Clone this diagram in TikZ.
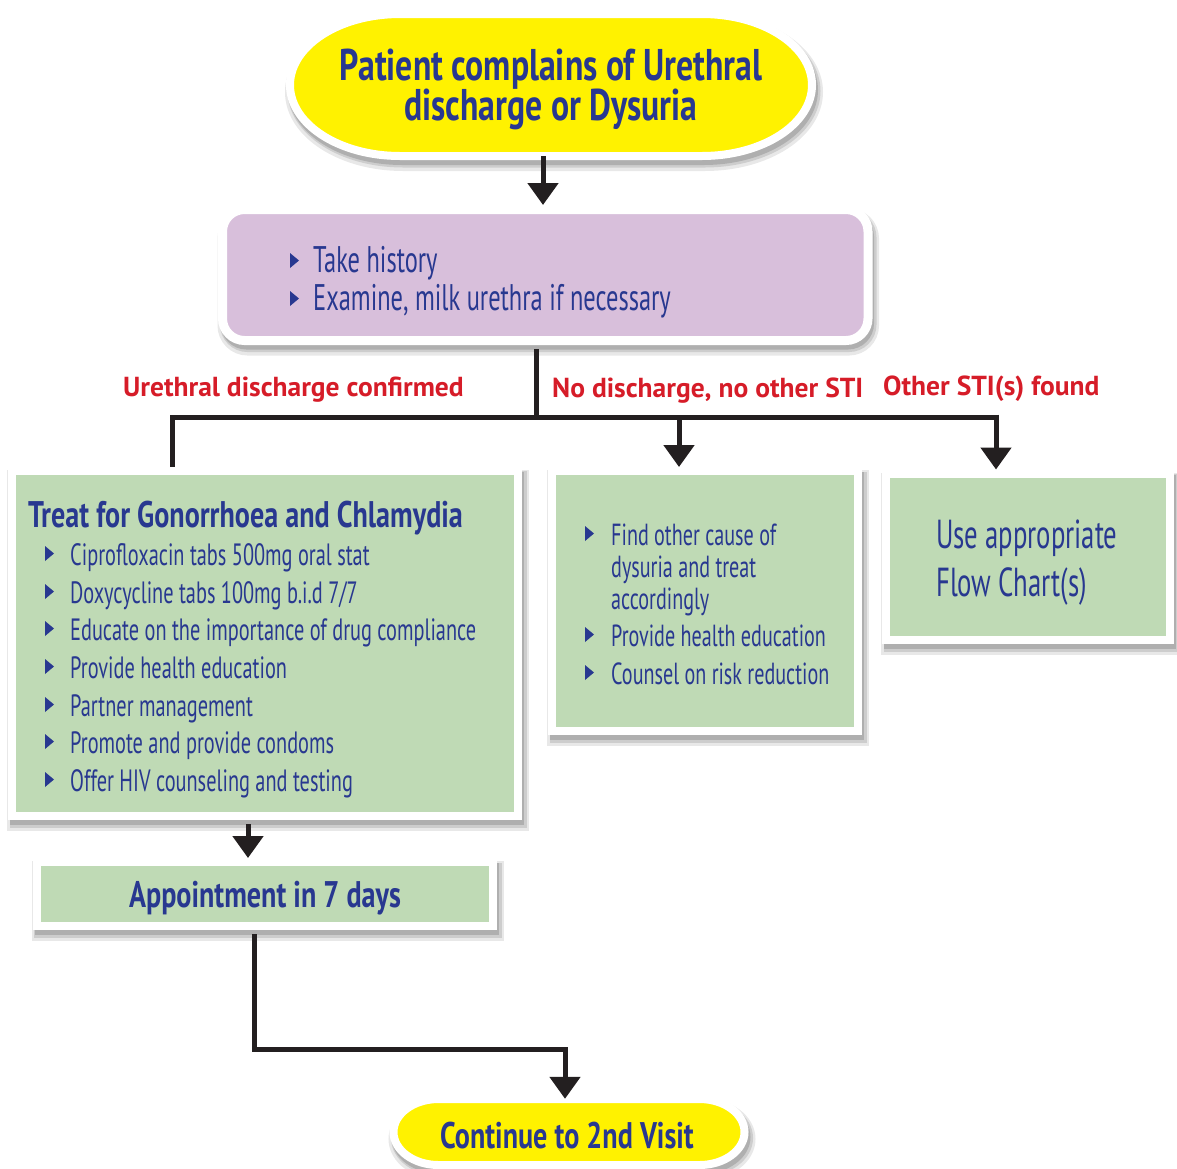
\documentclass[tikz,border=0pt]{standalone}
\usepackage{fontspec}
\setmainfont{PT Sans}[FakeStretch=0.66]
\newfontfamily\hdfont{PT Sans}[FakeStretch=0.76]
\newfontfamily\lblfont{PT Sans}
\usetikzlibrary{arrows.meta}
\definecolor{tc}{RGB}{40,56,144}
\definecolor{yel}{RGB}{255,242,0}
\definecolor{pur}{RGB}{216,191,219}
\definecolor{grn}{RGB}{191,218,181}
\definecolor{redl}{RGB}{214,28,40}
\definecolor{lnc}{RGB}{35,31,32}
\definecolor{shdA}{RGB}{232,232,232}
\definecolor{shdB}{RGB}{205,205,205}
\definecolor{shdC}{RGB}{175,175,175}
\newcommand\myfs[1]{\fontsize{#1}{#1}\selectfont}
\begin{document}
\begin{tikzpicture}[x=1pt,y=-1pt,
  shadowed/.style={
    preaction={draw=shdA, fill=shdA, line width=16pt, transform canvas={shift={(3pt,-7pt)}}},
    preaction={draw=shdB, fill=shdB, line width=11pt, transform canvas={shift={(3pt,-6pt)}}},
    preaction={draw=shdC, fill=shdC, line width=8pt, transform canvas={shift={(2pt,-5pt)}}}},
  box/.style={rectangle, draw=white, line width=8pt, fill=grn, inner sep=0pt, shadowed},
  frame/.style={rectangle, inner sep=0pt, draw=none},
  tx/.style={text=tc, inner sep=0pt, anchor=base west},
  txc/.style={text=tc, inner sep=0pt, anchor=base},
  lbl/.style={text=redl, inner sep=0pt, anchor=base west, font=\lblfont\bfseries\myfs{27.5}},
  conn/.style={draw=lnc, line width=5pt, line join=miter},
  arr/.style={conn, -{Triangle[width=30pt,length=22pt]}},
  bul/.style={fill=tc}
]
\useasboundingbox (0,0) rectangle (1177,1168);

% ---- top stadium
\draw[white, line width=8pt, fill=yel, shadowed]
  (400,14) -- (702,14) .. controls (762.75,14) and (812,45.8) .. (812,85)
  .. controls (812,124.2) and (762.75,156) .. (702,156) -- (400,156)
  .. controls (339.25,156) and (290,124.2) .. (290,85)
  .. controls (290,45.8) and (339.25,14) .. (400,14) -- cycle;
\node[frame, minimum width=522pt, minimum height=142pt] (start) at (551,85) {};
\node[txc, font=\hdfont\bfseries\myfs{44.4}] (s1) at (551,80) {Patient complains of Urethral};
\node[txc, font=\hdfont\bfseries\myfs{44.4}] (s2) at (551,120) {discharge or Dysuria};

% ---- history box
\node[box, fill=pur, line width=9pt, rounded corners=22pt, minimum width=645.5pt, minimum height=131pt] (hist) at (545.25,275) {};
\foreach \y/\t/\n in {272/{Take history}/h1, 310/{Examine, milk urethra if necessary}/h2}{
  \fill[bul] (290,\y-19) -- (299,\y-11.5) -- (290,\y-4) -- cycle;
  \node[tx, font=\myfs{37}] (\n) at (313,\y) {\t};
}

% ---- treatment box
\node[box, minimum width=506pt, minimum height=345.5pt] (tr) at (265,643.25) {};
\node[tx, font=\hdfont\bfseries\myfs{37}] (trt) at (28,527) {Treat for Gonorrhoea and Chlamydia};
\foreach \y/\t/\n in {565/{Ciprofloxacin tabs 500mg oral stat}/t1,
                      603/{Doxycycline tabs 100mg b.i.d 7/7}/t2,
                      640/{Educate on the importance of drug compliance}/t3,
                      678/{Provide health education}/t4,
                      716/{Partner management}/t5,
                      753/{Promote and provide condoms}/t6,
                      791/{Offer HIV counseling and testing}/t7}{
  \fill[bul] (45,\y-19) -- (54,\y-11.5) -- (45,\y-4) -- cycle;
  \node[tx, font=\myfs{30.8}] (\n) at (70,\y) {\t};
}

% ---- no discharge box
\node[box, minimum width=306pt, minimum height=260pt] (mid) at (705,601) {};
\foreach \y/\t/\n in {545/{Find other cause of}/m1, 646/{Provide health education}/m4, 684/{Counsel on risk reduction}/m5}{
  \fill[bul] (585,\y-19) -- (594,\y-11.5) -- (585,\y-4) -- cycle;
  \node[tx, font=\myfs{30.5}] (\n) at (611,\y) {\t};
}
\node[tx, font=\myfs{30.5}] (m2) at (611,577) {dysuria and treat};
\node[tx, font=\myfs{30.5}] (m3) at (611,609) {accordingly};

% ---- other STI box
\node[box, minimum width=283.5pt, minimum height=166.5pt] (oth) at (1027.75,556.75) {};
\node[tx, font=\myfs{40.5}] (o1) at (936,548) {Use appropriate};
\node[tx, font=\myfs{40.5}] (o2) at (936,596) {Flow Chart(s)};

% ---- appointment box
\node[box, minimum width=456.5pt, minimum height=64pt] (app) at (264.75,894) {};
\node[txc, font=\hdfont\bfseries\myfs{37}] (appt) at (265,907) {Appointment in 7 days};

% ---- bottom stadium
\draw[white, line width=8pt, fill=yel, shadowed]
  (438.5,1099) -- (699.5,1099) .. controls (724.35,1099) and (744.5,1113.8) .. (744.5,1132)
  .. controls (744.5,1150.2) and (724.35,1165) .. (699.5,1165) -- (438.5,1165)
  .. controls (413.65,1165) and (393.5,1150.2) .. (393.5,1132)
  .. controls (393.5,1113.8) and (413.65,1099) .. (438.5,1099) -- cycle;
\node[frame, minimum width=351pt, minimum height=66pt] (end) at (569,1132) {};
\node[txc, font=\hdfont\bfseries\myfs{37}] (endt) at (567,1148) {Continue to 2nd Visit};

% ---- labels
\node[lbl] (l1) at (123,396) {Urethral discharge confirmed};
\node[lbl] (l2) at (552,397) {No discharge, no other STI};
\node[lbl] (l3) at (883,395) {Other STI(s) found};

% ---- connectors
\draw[arr] ([xshift=-8pt]start.south) -- ([xshift=-8pt]start.south |- hist.north);
\coordinate (j) at (536,417);
\coordinate (jl) at (172,417);
\coordinate (jm) at (679,417);
\coordinate (jr) at (996,417);
\draw[conn] ([xshift=-9.25pt]hist.south) ++(0,4) -- (j);
\draw[conn] (jl |- tr.north) -- (jl) -- (jr);
\draw[arr] (jm) -- (jm |- mid.north);
\draw[arr] ([yshift=2.5pt]jr) -- (jr |- oth.north);
\draw[arr] ([xshift=-17pt]tr.south) ++(0,4) -- ([xshift=-17pt]tr.south |- app.north);
\coordinate (bend) at (565,1049);
\draw[arr] ([xshift=-10.75pt]app.south) ++(0,4) |- (bend) -- (bend |- end.north);
\end{tikzpicture}
\end{document}
